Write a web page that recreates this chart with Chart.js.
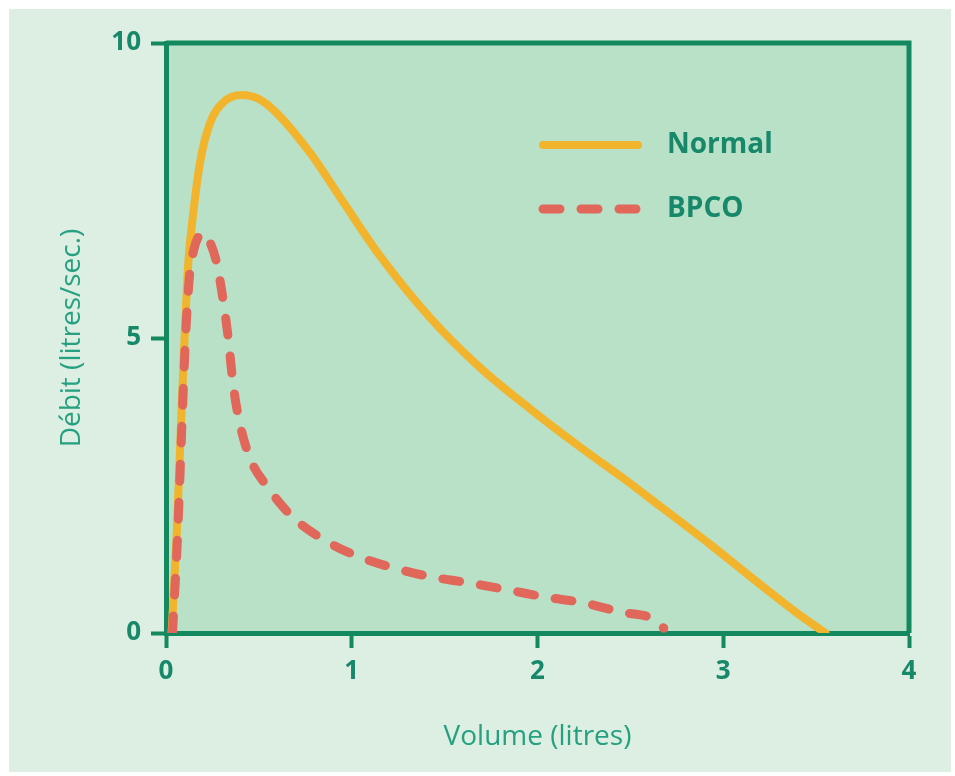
<!DOCTYPE html>
<html>
<head>
<meta charset="utf-8">
<script src="https://cdn.jsdelivr.net/npm/chart.js@4/dist/chart.umd.min.js"></script>
<style>
  html, body { margin: 0; padding: 0; background: #ffffff; }
  #wrap { width: 955px; height: 776px; position: relative; }
</style>
</head>
<body>
<div id="wrap"><canvas id="c" width="955" height="776"></canvas></div>
<script>
// ---- data ----
const seriesNames = ["Normal", "BPCO"];
const normalX = [0.03, 0.058, 0.079, 0.10, 0.12, 0.147, 0.183, 0.237, 0.31, 0.41, 0.50, 0.60, 0.78, 0.955, 1.15, 1.42, 1.69, 1.96, 2.23, 2.45, 2.66, 2.93, 3.20, 3.40, 3.55];
const normalY = [0, 1.7, 3.4, 5.0, 6.27, 7.12, 7.97, 8.64, 9.0, 9.12, 9.05, 8.8, 8.12, 7.3, 6.4, 5.35, 4.5, 3.8, 3.15, 2.65, 2.15, 1.5, 0.82, 0.33, 0];
const bpcoX = [0.035, 0.063, 0.084, 0.105, 0.125, 0.15, 0.175, 0.20, 0.24, 0.273, 0.31, 0.336, 0.36, 0.39, 0.45, 0.55, 0.68, 0.85, 1.04, 1.23, 1.43, 1.63, 1.84, 2.04, 2.25, 2.44, 2.65, 2.68];
const bpcoY = [0, 1.7, 3.4, 5.0, 6.0, 6.5, 6.72, 6.78, 6.6, 6.27, 5.59, 4.97, 4.25, 3.66, 2.98, 2.46, 1.97, 1.58, 1.29, 1.10, 0.95, 0.85, 0.73, 0.61, 0.51, 0.36, 0.19, 0.08];
const xTicks = [0, 1, 2, 3, 4];
const yTicks = [0, 5, 10];
const xTitle = "Volume (litres)";
const yTitle = "Débit (litres/sec.)";

const toPts = (xs, ys) => xs.map((x, i) => ({ x: x, y: ys[i] }));

const AXIS = '#14895f';
const TICKTXT = '#17886a';
const TITLETXT = '#25a080';

const bgPlugin = {
  id: 'bg',
  beforeDraw(chart) {
    const { ctx, chartArea: a, width, height } = chart;
    ctx.save();
    ctx.fillStyle = '#ffffff';
    ctx.fillRect(0, 0, width, height);
    ctx.fillStyle = '#dcefe2';
    ctx.fillRect(9, 9, width - 13, height - 13);
    ctx.fillStyle = '#b9e1c8';
    ctx.fillRect(a.left, a.top, a.right - a.left, a.bottom - a.top);
    ctx.restore();
  },
  afterDraw(chart) {
    const { ctx, chartArea: a } = chart;
    ctx.save();
    ctx.strokeStyle = AXIS;
    ctx.lineWidth = 5;
    ctx.beginPath();
    ctx.moveTo(a.left, a.top);
    ctx.lineTo(a.right, a.top);
    ctx.lineTo(a.right, a.bottom);
    ctx.stroke();
    // legend
    const items = chart.data.datasets;
    const lx0 = a.left + 377, lx1 = a.left + 472, tx = a.left + 501;
    const ys = [a.top + 102, a.top + 166];
    items.forEach((ds, i) => {
      ctx.strokeStyle = ds.borderColor;
      ctx.lineWidth = ds.borderWidth;
      ctx.lineCap = ds.borderCapStyle || 'butt';
      ctx.setLineDash(ds.borderDash || []);
      ctx.beginPath();
      ctx.moveTo(lx0, ys[i]);
      ctx.lineTo(lx1, ys[i]);
      ctx.stroke();
      ctx.setLineDash([]);
      ctx.fillStyle = TICKTXT;
      ctx.font = 'bold 28px "Open Sans"';
      ctx.textBaseline = 'middle';
      ctx.textAlign = 'left';
      ctx.fillText(ds.label, tx, ys[i]);
    });
    ctx.restore();
  }
};

new Chart(document.getElementById('c'), {
  type: 'scatter',
  data: {
    datasets: [
      {
        label: seriesNames[0],
        data: toPts(normalX, normalY),
        showLine: true,
        borderColor: '#f1b42c',
        borderWidth: 8,
        borderCapStyle: 'round',
        pointRadius: 0,
        cubicInterpolationMode: 'monotone',
        order: 2
      },
      {
        label: seriesNames[1],
        data: toPts(bpcoX, bpcoY),
        showLine: true,
        borderColor: '#e0675a',
        borderWidth: 9,
        borderDash: [17, 21],
        borderCapStyle: 'round',
        pointRadius: 0,
        cubicInterpolationMode: 'monotone',
        order: 1
      }
    ]
  },
  options: {
    responsive: false,
    animation: false,
    layout: { padding: { top: 43, right: 46, left: 0, bottom: 0 } },
    plugins: { legend: { display: false }, tooltip: { enabled: false } },
    scales: {
      x: {
        type: 'linear', min: 0, max: 4,
        afterBuildTicks(s) { s.ticks = xTicks.map(v => ({ value: v })); },
        afterFit(s) { s.height = 143; },
        grid: { display: true, drawOnChartArea: false, drawTicks: true, tickLength: 15, tickWidth: 4, tickColor: AXIS, color: AXIS },
        border: { display: true, color: AXIS, width: 5 },
        ticks: { color: TICKTXT, font: { family: 'Open Sans', weight: 'bold', size: 26 }, padding: 8, maxRotation: 0 },
        title: { display: true, text: xTitle, color: TITLETXT, font: { family: 'Open Sans', size: 28 }, padding: { top: 0, bottom: 22 } }
      },
      y: {
        type: 'linear', min: 0, max: 10,
        afterBuildTicks(s) { s.ticks = yTicks.map(v => ({ value: v })); },
        afterFit(s) { s.width = 166; },
        grid: { display: true, drawOnChartArea: false, drawTicks: true, tickLength: 15, tickWidth: 4, tickColor: AXIS, color: AXIS },
        border: { display: true, color: AXIS, width: 5 },
        ticks: { color: TICKTXT, font: { family: 'Open Sans', weight: 'bold', size: 26 }, padding: 10 },
        title: { display: true, text: yTitle, color: TITLETXT, font: { family: 'Open Sans', size: 28 }, padding: { top: 55, bottom: 0 } }
      }
    }
  },
  plugins: [bgPlugin]
});
</script>
</body>
</html>
